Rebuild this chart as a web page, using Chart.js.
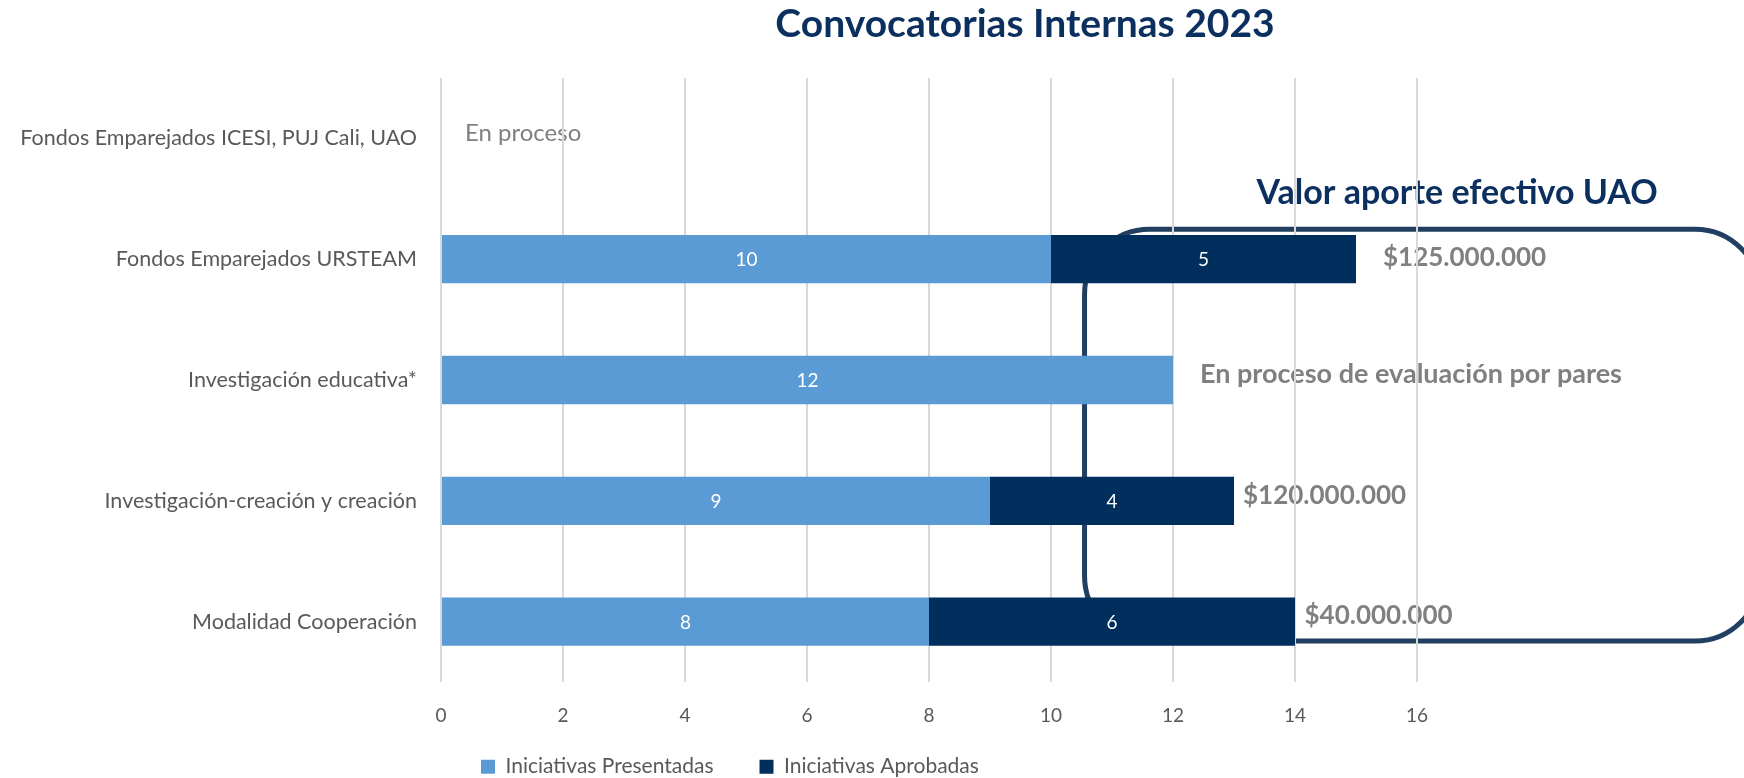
<!DOCTYPE html>
<html>
<head>
<meta charset="utf-8">
<title>Convocatorias Internas 2023</title>
<script src="https://cdn.jsdelivr.net/npm/chart.js@4.4.0/dist/chart.umd.min.js"></script>
<style>
  html, body { margin: 0; padding: 0; background: #fff; }
  #wrap { width: 1744px; height: 778px; }
</style>
</head>
<body>
<div id="wrap"><canvas id="chart" width="1744" height="778"></canvas></div>
<script>
// Categorias, de arriba a abajo
const categories = [
  'Fondos Emparejados ICESI, PUJ Cali, UAO',
  'Fondos Emparejados URSTEAM',
  'Investigación educativa*',
  'Investigación-creación y creación',
  'Modalidad Cooperación'
];
const presentadas = [null, 10, 12, 9, 8];
const aprobadas = [null, 5, null, 4, 6];
const xTicks = [0, 2, 4, 6, 8, 10, 12, 14, 16];

// Textos de apoyo
const aporteUAO = [null, '$125.000.000', null, '$120.000.000', '$40.000.000'];
const notas = ['En proceso', null, 'En proceso de evaluación por pares', null, null];
const tituloAporte = 'Valor aporte efectivo UAO';

const LIGHT = '#5B9BD5';
const DARK = '#002F5E';
const NAVY = '#0B2F5E';
const BRACKET = '#213F60';
const GREY = '#808080';
const LABEL = '#595959';
const FONT = 'Lato, "Open Sans", sans-serif';

// Posicion de cada texto (px respecto a la fila / al final de la barra)
const aporteDx = [0, 27, 0, 9, 9.5];
const aporteDy = [0, 7, 0, 3, 2.3];

// Leyenda
const LEGEND_FONT = 21;
const LEGEND_PAD = 46;

/**
 * Marco redondeado y textos de la derecha, debajo de la rejilla
 */
const notesPlugin = {
  id: 'notas',
  beforeDraw(chart) {
    const { ctx } = chart;
    const x = chart.scales.x;
    const y = chart.scales.y;

    // marco
    const left = x.getPixelForValue(10.55);
    const right = chart.width + 16;
    const top = y.getPixelForValue(1) - 30;
    const bottom = y.getPixelForValue(4) + 19.5;
    ctx.save();
    ctx.strokeStyle = BRACKET;
    ctx.lineWidth = 5;
    ctx.beginPath();
    ctx.roundRect(left, top, right - left, bottom - top, 65);
    ctx.stroke();

    ctx.textBaseline = 'alphabetic';
    ctx.textAlign = 'left';

    // titulo del marco
    ctx.fillStyle = NAVY;
    ctx.font = 'bold 34px ' + FONT;
    ctx.fillText(tituloAporte, left + 172, y.getPixelForValue(1) - 55);

    // valores aportados
    ctx.fillStyle = GREY;
    ctx.font = 'bold 26px ' + FONT;
    aporteUAO.forEach((txt, i) => {
      if (!txt) return;
      const end = (presentadas[i] || 0) + (aprobadas[i] || 0);
      ctx.fillText(txt, x.getPixelForValue(end) + aporteDx[i], y.getPixelForValue(i) + aporteDy[i]);
    });

    // notas
    notas.forEach((txt, i) => {
      if (!txt) return;
      if (i === 0) {
        ctx.font = '24px ' + FONT;
        ctx.fillText(txt, x.getPixelForValue(0) + 24, y.getPixelForValue(i) + 2.6);
      } else {
        ctx.font = 'bold 27px ' + FONT;
        const end = (presentadas[i] || 0) + (aprobadas[i] || 0);
        ctx.fillText(txt, x.getPixelForValue(end) + 27, y.getPixelForValue(i) + 3.3);
      }
    });
    ctx.restore();
  }
};

/**
 * Numeros blancos dentro de cada barra
 */
const barLabels = {
  id: 'barLabels',
  afterDatasetsDraw(chart) {
    const { ctx } = chart;
    ctx.save();
    ctx.fillStyle = '#ffffff';
    ctx.font = '19px ' + FONT;
    ctx.textAlign = 'center';
    ctx.textBaseline = 'middle';
    chart.data.datasets.forEach((ds, d) => {
      const meta = chart.getDatasetMeta(d);
      meta.data.forEach((bar, i) => {
        const v = ds.data[i];
        if (v === null || v === undefined) return;
        ctx.fillText(String(v), (bar.x + bar.base) / 2, bar.y + 1);
      });
    });
    ctx.restore();
  }
};

/**
 * Acomoda titulo y leyenda donde estan en la diapositiva
 */
const placeBlocks = {
  id: 'placeBlocks',
  afterLayout(chart) {
    const t = chart.titleBlock;
    if (t) {
      const dx = 1025 - (t.left + t.right) / 2;
      t.left += dx;
      t.right += dx;
    }
    const lg = chart.legend;
    if (lg) {
      const dx = (481 - LEGEND_PAD) - lg.left;
      const dy = (766.7 - LEGEND_PAD - LEGEND_FONT / 2) - lg.top;
      lg.left += dx; lg.right += dx;
      lg.top += dy; lg.bottom += dy;
    }
  }
};

const ctx = document.getElementById('chart').getContext('2d');
new Chart(ctx, {
  type: 'bar',
  data: {
    labels: categories,
    datasets: [
      {
        label: 'Iniciativas Presentadas',
        data: presentadas,
        backgroundColor: LIGHT,
        borderWidth: 0
      },
      {
        label: 'Iniciativas Aprobadas',
        data: aprobadas,
        backgroundColor: DARK,
        borderWidth: 0
      }
    ]
  },
  options: {
    indexAxis: 'y',
    responsive: false,
    animation: false,
    barPercentage: 0.4,
    categoryPercentage: 1,
    // la leyenda ocupa mas alto por su padding; el padding inferior lo compensa
    layout: { padding: { left: 0, right: 327, top: 0, bottom: 19 - (50 - 40) - ((LEGEND_FONT + LEGEND_PAD) - (19 + 8)) } },
    scales: {
      x: {
        stacked: true,
        min: 0,
        max: 16,
        afterBuildTicks: (scale) => { scale.ticks = xTicks.map(v => ({ value: v })); },
        afterFit: (scale) => { scale.height = 50; },
        grid: { color: '#D9D9D9', lineWidth: 2, drawTicks: false },
        border: { display: false },
        ticks: { color: LABEL, font: { family: FONT, size: 19 }, padding: 22 }
      },
      y: {
        stacked: true,
        afterFit: (scale) => { scale.width = 441; },
        grid: { display: false, drawTicks: false },
        border: { display: false },
        ticks: { color: LABEL, font: { family: FONT, size: 21.5 }, padding: 24 }
      }
    },
    plugins: {
      title: {
        display: true,
        text: 'Convocatorias Internas 2023',
        color: NAVY,
        font: { family: FONT, size: 39, weight: 'bold' },
        padding: { top: 1.5, bottom: 29.7 }
      },
      legend: {
        position: 'bottom',
        align: 'start',
        fullSize: false,
        labels: {
          boxWidth: 14,
          boxHeight: 14,
          padding: LEGEND_PAD,
          color: LABEL,
          font: { family: FONT, size: LEGEND_FONT }
        }
      },
      tooltip: { enabled: false }
    }
  },
  plugins: [notesPlugin, barLabels, placeBlocks]
});
</script>
</body>
</html>
